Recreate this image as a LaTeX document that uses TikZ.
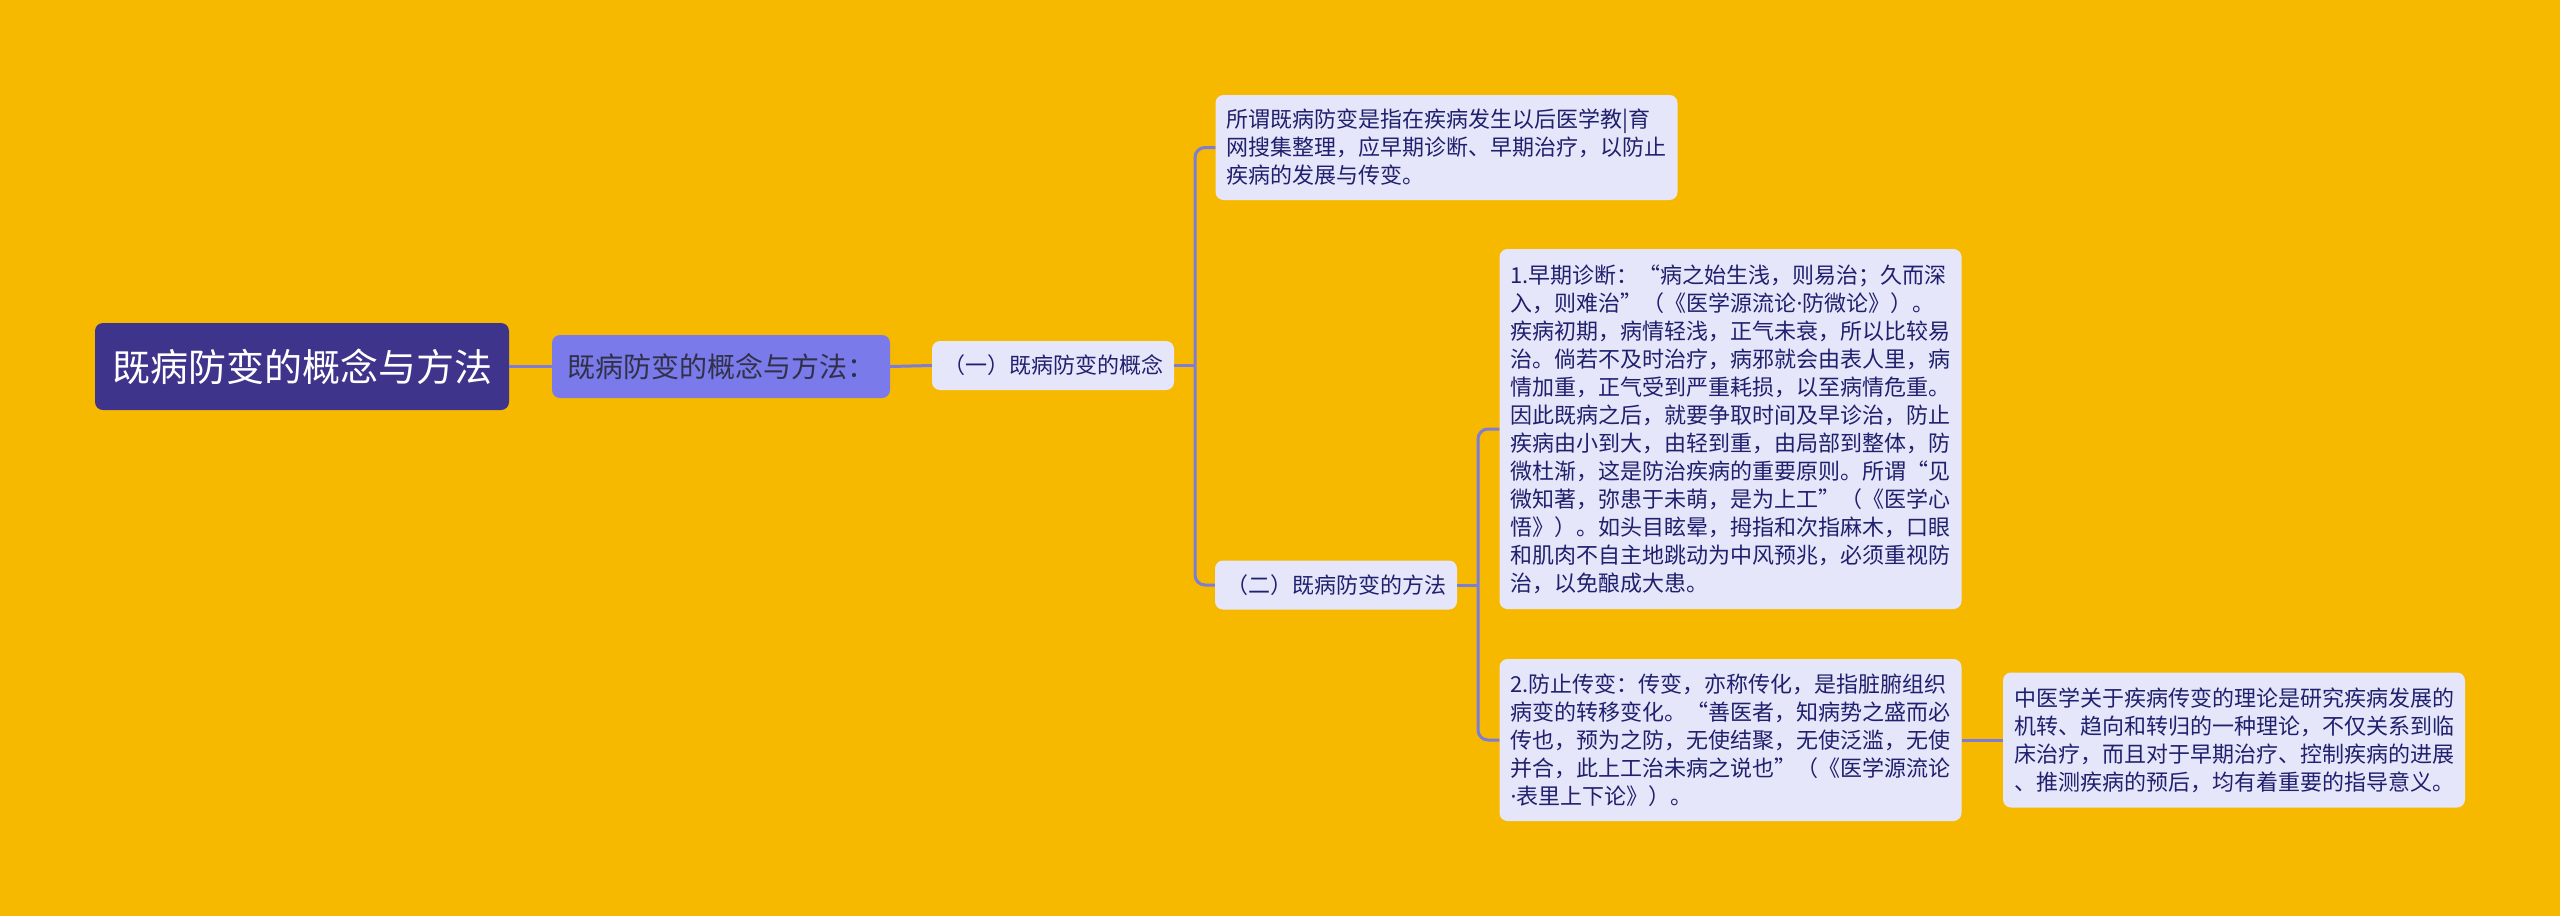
\documentclass[tikz,border=0pt]{standalone}
\usepackage{fontspec}
\newfontfamily\cjk{Noto Sans CJK SC}
\newfontfamily\latin{Noto Sans}
\usepackage{xcolor}
\definecolor{bggold}{RGB}{246,185,0}
\definecolor{rootblue}{RGB}{62,52,140}
\definecolor{midblue}{RGB}{122,122,235}
\definecolor{midtext}{RGB}{48,48,72}
\definecolor{leaffill}{RGB}{230,230,250}
\definecolor{leaftext}{RGB}{32,32,110}
\definecolor{linkblue}{RGB}{125,125,215}
\usetikzlibrary{positioning, calc}
\newcommand{\middot}{{\latin ·}}

\begin{document}
\begin{tikzpicture}[
  x=1pt, y=-1pt,
  rootbox/.style={rectangle, rounded corners=8pt, fill=rootblue, text=white,
              minimum width=414pt, minimum height=87pt, inner sep=0pt,
              font=\cjk\fontsize{38}{46}\selectfont},
  midbox/.style={rectangle, rounded corners=8pt, fill=midblue, text=midtext,
              minimum width=338pt, minimum height=63pt, inner sep=0pt,
              font=\cjk\fontsize{28}{34}\selectfont},
  subbox/.style={rectangle, rounded corners=8pt, fill=leaffill, text=leaftext,
              minimum width=242pt, minimum height=49pt, inner sep=0pt,
              font=\cjk\fontsize{22}{28}\selectfont},
  leafbox/.style={rectangle, rounded corners=8pt, fill=leaffill, text=leaftext,
              text width=440pt, align=left, inner xsep=11pt, inner ysep=10pt,
              font=\cjk\fontsize{22}{28}\selectfont},
  link/.style={draw=linkblue, line width=3pt, rounded corners=10pt}
]
  % Background
  \fill[bggold] (0,0) rectangle (2560,916);

  % Boxes
  \node[rootbox] (root) at (302,366.5) {既病防变的概念与方法};
  \node[midbox]  (topic) at (721,366.5) {既病防变的概念与方法：};
  \node[subbox]  (concept) at (1053,365.5) {（一）既病防变的概念};
  \node[subbox]  (method)  at (1336,585) {（二）既病防变的方法};

  \node[leafbox, minimum height=105pt] (define) at (1446.5,147.5)
    {所谓既病防变是指在疾病发生以后医学教|育\\
     网搜集整理，应早期诊断、早期治疗，以防止\\
     疾病的发展与传变。};
  \node[leafbox, minimum height=360pt] (early) at (1730.5,429)
    {1.早期诊断：“病之始生浅，则易治；久而深\\
     入，则难治”（《医学源流论\middot 防微论》）。\\
     疾病初期，病情轻浅，正气未衰，所以比较易\\
     治。倘若不及时治疗，病邪就会由表人里，病\\
     情加重，正气受到严重耗损，以至病情危重。\\
     因此既病之后，就要争取时间及早诊治，防止\\
     疾病由小到大，由轻到重，由局部到整体，防\\
     微杜渐，这是防治疾病的重要原则。所谓“见\\
     微知著，弥患于未萌，是为上工”（《医学心\\
     悟》）。如头目眩晕，拇指和次指麻木，口眼\\
     和肌肉不自主地跳动为中风预兆，必须重视防\\
     治，以免酿成大患。};
  \node[leafbox, minimum height=162pt] (spread) at (1730.5,740)
    {2.防止传变：传变，亦称传化，是指脏腑组织\\
     病变的转移变化。“善医者，知病势之盛而必\\
     传也，预为之防，无使结聚，无使泛滥，无使\\
     并合，此上工治未病之说也”（《医学源流论\\
     \middot 表里上下论》）。};
  \node[leafbox, minimum height=135pt] (theory) at (2234,740)
    {中医学关于疾病传变的理论是研究疾病发展的\\
     机转、趋向和转归的一种理论，不仅关系到临\\
     床治疗，而且对于早期治疗、控制疾病的进展\\
     、推测疾病的预后，均有着重要的指导意义。};

  % Junctions
  \coordinate (jconcept) at (1195,365.5);
  \coordinate (jmethod)  at (1478,585);

  % Connectors
  \draw[link] (root.east) -- (topic.west);
  \draw[link] (topic.east) -- (concept.west);
  \draw[link] (concept.east) -- (jconcept);
  \draw[link] (jconcept) |- (define.west);
  \draw[link] (jconcept) |- (method.west);
  \draw[link] (method.east) -- (jmethod);
  \draw[link] (jmethod) |- (early.west);
  \draw[link] (jmethod) |- (spread.west);
  \draw[link] (spread.east) -- (theory.west);
\end{tikzpicture}
\end{document}
